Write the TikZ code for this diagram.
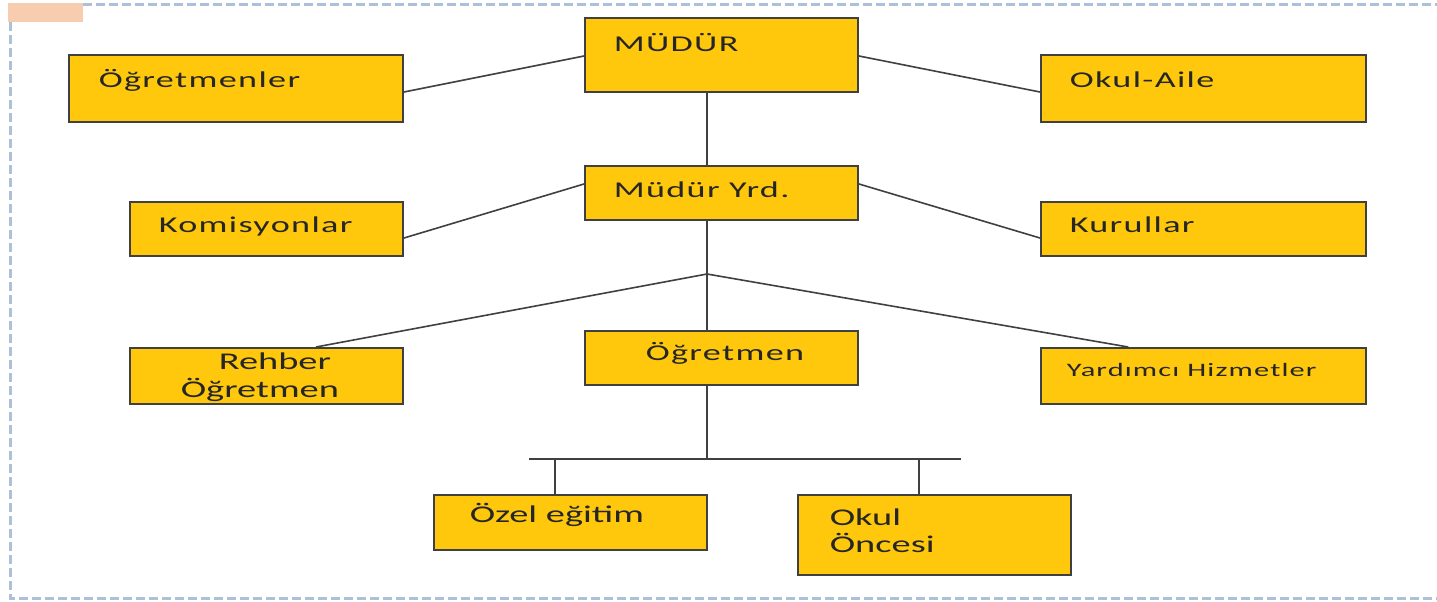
\documentclass[tikz,border=0pt]{standalone}
\usepackage{fontspec}
\usetikzlibrary{positioning,calc}
\newfontfamily\orgfont[FakeStretch=1.6]{Carlito}
\newfontfamily\orgwide[FakeStretch=1.6,LetterSpace=6]{Carlito}
\definecolor{boxfill}{RGB}{255,200,12}
\definecolor{boxline}{RGB}{64,64,64}
\definecolor{framecol}{RGB}{172,192,218}
\definecolor{tabcol}{RGB}{248,204,174}

\begin{document}
\begin{tikzpicture}[x=0.5pt,y=-0.5pt,line width=0.8pt]
\tikzstyle{every node}=[font=\orgwide\fontsize{11.3}{13}\selectfont,text=black!85]
\tikzstyle{orgbox}=[rectangle,draw=boxline,fill=boxfill,line width=1pt,inner sep=0pt]
\tikzstyle{boxtext}=[anchor=base west,inner sep=0pt]
\tikzstyle{plain}=[font=\orgfont\fontsize{12}{13}\selectfont]
\tikzstyle{link}=[draw=boxline]
\useasboundingbox (0,0) rectangle (1437,601);
% slide frame
\fill[tabcol] (8,3) rectangle (83,22);
\draw[framecol,line width=1.5pt,dash pattern=on 4.5pt off 2pt] (83,4) -- (1437,4);
\draw[framecol,line width=1.5pt,dash pattern=on 4.5pt off 2pt] (10,22) -- (10,598) -- (1437,598);
% the boxes
\node[orgbox,minimum width=136.5pt,minimum height=37pt] (mudur) at (721.5,55) {};
\node[orgbox,minimum width=167pt,minimum height=33.5pt] (ogretmenler) at (236,88.5) {};
\node[orgbox,minimum width=162.5pt,minimum height=33.5pt] (okulaile) at (1203.5,88.5) {};
\node[orgbox,minimum width=136.5pt,minimum height=27pt] (yrd) at (721.5,193) {};
\node[orgbox,minimum width=136.5pt,minimum height=27pt] (komisyon) at (266.5,229) {};
\node[orgbox,minimum width=162.5pt,minimum height=27pt] (kurullar) at (1203.5,229) {};
\node[orgbox,minimum width=136.5pt,minimum height=28pt] (rehber) at (266.5,376) {};
\node[orgbox,minimum width=136.5pt,minimum height=27pt] (ogretmen) at (721.5,358) {};
\node[orgbox,minimum width=162.5pt,minimum height=28pt] (yardimci) at (1203.5,376) {};
\node[orgbox,minimum width=136.5pt,minimum height=27.5pt] (ozel) at (570.5,522.5) {};
\node[orgbox,minimum width=136.5pt,minimum height=40pt] (okuloncesi) at (934.5,535) {};
% the texts
\node[boxtext] (mudur-t) at (613,51) {MÜDÜR};
\node[boxtext] (ogretmenler-t) at (98,87) {Öğretmenler};
\node[boxtext] (okulaile-t) at (1069,87) {Okul-Aile};
\node[boxtext] (yrd-t) at (613,197) {Müdür Yrd.};
\node[boxtext] (komisyon-t) at (158,232) {Komisyonlar};
\node[boxtext] (kurullar-t) at (1069,232) {Kurullar};
\node[boxtext,plain] (rehber-t1) at (218,369) {Rehber};
\node[boxtext,plain] (rehber-t2) at (180,397) {Öğretmen};
\node[boxtext] (ogretmen-t) at (645,360) {Öğretmen};
\node[boxtext,font=\orgwide\fontsize{9.5}{11}\selectfont] (yardimci-t) at (1066,376) {Yardımcı Hizmetler};
\node[boxtext,plain] (ozel-t) at (469,522) {Özel eğitim};
\node[boxtext,plain] (okuloncesi-t1) at (829,525) {Okul};
\node[boxtext,plain] (okuloncesi-t2) at (829,552) {Öncesi};
% the connectors
\coordinate (split) at (707,274);
\coordinate (busL) at (529,459);
\coordinate (busR) at (961,459);
\coordinate (busM) at (707,459);
\draw[link] ([yshift=-1.75pt]ogretmenler.east) -- ([yshift=-0.5pt]mudur.west);
\draw[link] ([yshift=-0.5pt]mudur.east) -- ([yshift=-1.75pt]okulaile.east -| okulaile.west);
\draw[link] (mudur.south -| split) -- (yrd.north -| split);
\draw[link] ([yshift=-4.5pt]komisyon.east) -- ([yshift=4.5pt]yrd.west);
\draw[link] ([yshift=4.5pt]yrd.east) -- ([yshift=-4.5pt]kurullar.west);
\draw[link] (yrd.south -| split) -- (ogretmen.north -| split);
\draw[link] (split) -- ($(rehber.north west)!0.68!(rehber.north east)$);
\draw[link] (split) -- ($(yardimci.north west)!0.27!(yardimci.north east)$);
\draw[link] (ogretmen.south -| busM) -- (busM);
\draw[link] (busL) -- (busR);
\draw[link] (busL -| 555,0) -- (ozel.north -| 555,0);
\draw[link] (busL -| 919,0) -- (okuloncesi.north -| 919,0);
\end{tikzpicture}
\end{document}
